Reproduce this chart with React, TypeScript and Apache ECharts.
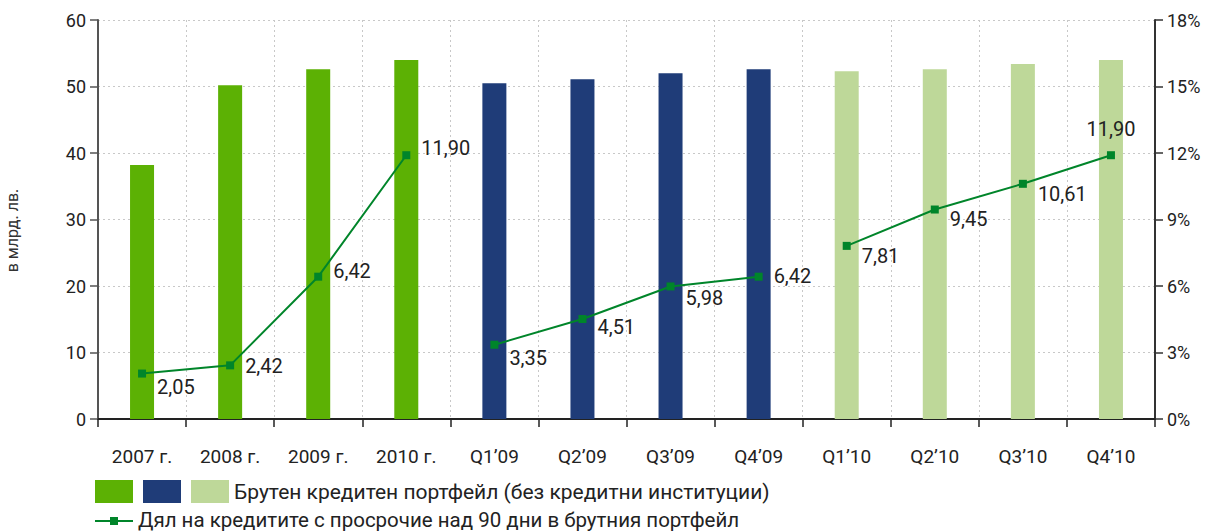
import React, { useEffect, useRef } from "react";
import * as echarts from "echarts";

const categories = ["2007 г.", "2008 г.", "2009 г.", "2010 г.", "Q1’09", "Q2’09", "Q3’09", "Q4’09", "Q1’10", "Q2’10", "Q3’10", "Q4’10"];
const portfolio = [38.2, 50.2, 52.6, 54.0, 50.5, 51.1, 52.0, 52.6, 52.3, 52.6, 53.4, 54.0];
const overdueShare = [2.05, 2.42, 6.42, 11.9, 3.35, 4.51, 5.98, 6.42, 7.81, 9.45, 10.61, 11.9];
const groups = [0, 0, 0, 0, 1, 1, 1, 1, 2, 2, 2, 2];
const leftTicks = { min: 0, max: 60, interval: 10 };
const rightTicks = { min: 0, max: 18, interval: 3 };
const barName = "Брутен кредитен портфейл (без кредитни институции)";
const lineName = "Дял на кредитите с просрочие над 90 дни в брутния портфейл";
const yName = "в млрд. лв.";

const groupColors = ["#5cb104", "#1f3c78", "#bed899"];
const lineColor = "#00852a";
const labelOffsets: [string, number][] = [
  ["right", 13], ["right", 1], ["right", -6], ["right", -7],
  ["right", 13], ["right", 8], ["right", 12], ["right", -1],
  ["right", 10], ["right", 9], ["right", 10], ["top", 0],
];
const FONT = "Roboto, 'Noto Sans', sans-serif";

export default function App() {
  const ref = useRef<HTMLDivElement>(null);
  useEffect(() => {
    document.body.style.margin = "0";
    const chart = echarts.init(ref.current!, null, { renderer: "svg" });
    const fmt = (v: number) => v.toFixed(2).replace(".", ",");
    const lineSeries = [0, 1, 2].map((g) => ({
      type: "line",
      name: lineName,
      yAxisIndex: 1,
      symbol: "rect",
      symbolSize: 8,
      lineStyle: { color: lineColor, width: 2 },
      itemStyle: { color: lineColor },
      z: 5,
      data: overdueShare.map((v, i) => {
        if (groups[i] !== g) return "-";
        const [pos, dy] = labelOffsets[i];
        return {
          value: v,
          label: {
            show: true,
            position: pos,
            distance: pos === "top" ? 12 : 11,
            offset: [0, dy],
            formatter: () => fmt(v),
            fontSize: 20,
            color: "#222",
            fontFamily: FONT,
          },
        };
      }),
    }));
    chart.setOption({
      animation: false,
      textStyle: { fontFamily: FONT },
      grid: { left: 98, right: 56, top: 20, bottom: 112, outerBoundsMode: "none", containLabel: false },
      xAxis: {
        type: "category",
        data: categories,
        boundaryGap: true,
        axisLine: { lineStyle: { color: "#222", width: 2 } },
        axisTick: { show: true, length: 8, lineStyle: { color: "#222", width: 1.5 } },
        axisLabel: { margin: 28, fontSize: 19, color: "#222", fontFamily: FONT },
        splitLine: { show: true, lineStyle: { color: "#c8c8c8", type: [2, 3], width: 1 } },
      },
      yAxis: [
        {
          type: "value",
          ...leftTicks,
          name: yName,
          nameLocation: "middle",
          nameRotate: 90,
          nameGap: 78,
          nameTextStyle: { fontSize: 16, color: "#333", fontFamily: FONT, padding: [0, 22, 0, 0] },
          axisLine: { show: true, lineStyle: { color: "#555", width: 2 } },
          axisTick: { show: true, length: 8, lineStyle: { color: "#555", width: 1.5 } },
          axisLabel: { margin: 12, fontSize: 18, color: "#222", fontFamily: FONT },
          splitLine: { show: true, lineStyle: { color: "#c8c8c8", type: [2, 3], width: 1 } },
        },
        {
          type: "value",
          ...rightTicks,
          position: "right",
          axisLine: { show: true, lineStyle: { color: "#333", width: 2 } },
          axisTick: { show: true, length: 8, lineStyle: { color: "#333", width: 1.5 } },
          axisLabel: { margin: 12, fontSize: 18, color: "#222", fontFamily: FONT, formatter: "{value}%" },
          splitLine: { show: false },
        },
      ],
      series: [
        {
          type: "bar",
          name: barName,
          barWidth: 24,
          data: portfolio.map((v, i) => ({ value: v, itemStyle: { color: groupColors[groups[i]] } })),
        },
        ...lineSeries,
      ],
      graphic: [
        ...groupColors.map((c, i) => ({
          type: "rect",
          shape: { x: 95 + i * 48, y: 480, width: 38, height: 23 },
          style: { fill: c },
        })),
        {
          type: "text",
          x: 234,
          y: 492,
          style: { text: barName, fill: "#222", font: `21px ${FONT}`, verticalAlign: "middle" },
        },
        { type: "line", shape: { x1: 95, y1: 521, x2: 133, y2: 521 }, style: { stroke: lineColor, lineWidth: 2 } },
        { type: "rect", shape: { x: 110, y: 517, width: 8, height: 8 }, style: { fill: lineColor } },
        {
          type: "text",
          x: 138,
          y: 520,
          style: { text: lineName, fill: "#222", font: `20.5px ${FONT}`, verticalAlign: "middle" },
        },
      ],
    });
    return () => chart.dispose();
  }, []);
  return <div ref={ref} style={{ width: 1211, height: 531 }} />;
}
